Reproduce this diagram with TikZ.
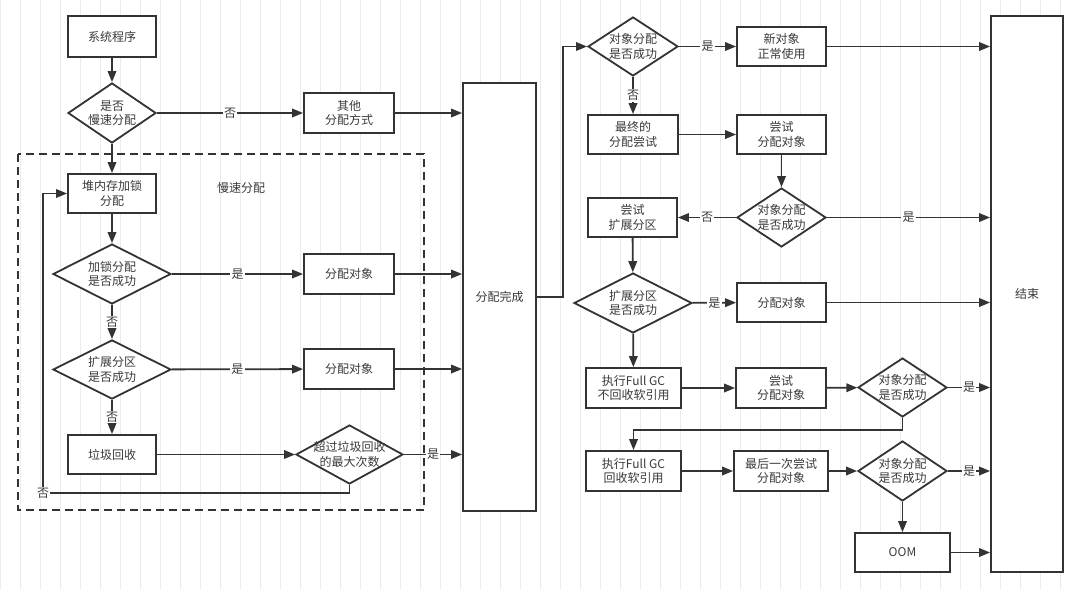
\documentclass[tikz,border=0pt]{standalone}
\usepackage{fontspec}
\setmainfont{Noto Sans CJK SC}
\usepackage{xcolor}
\usetikzlibrary{arrows.meta,shapes.geometric}
\definecolor{ln}{HTML}{333333}
\definecolor{tx}{HTML}{3A3A3A}
\tikzset{
  txt/.style={font=\fontsize{12}{14.5}\selectfont, text=tx, align=center},
  blk/.style={rectangle, draw=ln, line width=1.8pt, fill=white, txt,
              inner sep=0pt, minimum width=#1, minimum height=40pt},
  blk/.default=89pt,
  dec/.style n args={3}{diamond, draw=ln, line width=1.8pt, fill=white,
              inner sep=0pt, minimum width=#1, minimum height=#2,
              label={[txt]center:{#3}}},
  fl/.style={-{Triangle[length=11pt,width=8.5pt]}, draw=ln, line width=1.8pt},
  frm/.style={draw=ln, line width=1.8pt, dash pattern=on 8pt off 5pt},
  lbl/.style={txt, fill=white, inner sep=1.2pt},
  gridln/.style={draw=black!8, line width=0.6pt},
}
\begin{document}
\begin{tikzpicture}[x=1pt,y=-1pt]
\useasboundingbox (0,0) rectangle (1080,589);
\fill[white] (0,0) rectangle (1080,589);
\draw[gridln, step=20] (0,0) grid (1080,589);
\node[blk=88pt, minimum height=41pt] (sys) at (112,36.5) {系统程序};
\node[dec={88pt}{60pt}{是否\\慢速分配}] (slow) at (112,113) {};
\node[blk=90pt] (other) at (349,113) {其他\\分配方式};
\draw[frm] (18,154) rectangle (424,510);
\node[txt] (slowlbl) at (241,188) {慢速分配};
\node[blk=88pt, minimum height=39pt] (lock) at (112,193.5) {堆内存加锁\\分配};
\node[dec={118pt}{60pt}{加锁分配\\是否成功}] (lockok) at (112,274) {};
\node[blk=90pt] (obj1) at (349,274) {分配对象};
\node[dec={118pt}{59pt}{扩展分区\\是否成功}] (extok) at (112,369.5) {};
\node[blk=90pt] (obj2) at (349,369) {分配对象};
\node[blk=88pt, minimum height=39pt] (gc) at (112,454.5) {垃圾回收};
\node[dec={107pt}{59pt}{超过垃圾回收\\的最大次数}] (maxgc) at (349.5,454.5) {};
\node[blk=73pt, minimum height=428pt] (done) at (499.5,297) {分配完成};
\node[dec={90pt}{59pt}{对象分配\\是否成功}] (ok1) at (633,46.5) {};
\node[blk, minimum height=39pt] (newobj) at (781.5,46.5) {新对象\\正常使用};
\node[blk=90pt, minimum height=39pt] (final) at (633,134.5) {最终的\\分配尝试};
\node[blk, minimum height=39pt] (try1) at (781.5,134.5) {尝试\\分配对象};
\node[dec={89pt}{59pt}{对象分配\\是否成功}] (ok2) at (781.5,217.5) {};
\node[blk, minimum height=39pt] (tryext) at (632.5,217.5) {尝试\\扩展分区};
\node[dec={118pt}{60pt}{扩展分区\\是否成功}] (extok2) at (633,303) {};
\node[blk, minimum height=39pt] (obj3) at (781.5,302.5) {分配对象};
\node[blk=95pt] (fgc1) at (633.5,388) {执行Full GC\\不回收软引用};
\node[blk=90pt] (try2) at (781,388) {尝试\\分配对象};
\node[dec={89pt}{59pt}{对象分配\\是否成功}] (ok3) at (902.5,387.5) {};
\node[blk=95pt] (fgc2) at (633.5,471) {执行Full GC\\回收软引用};
\node[blk=94pt] (try3) at (781,471) {最后一次尝试\\分配对象};
\node[dec={89pt}{60pt}{对象分配\\是否成功}] (ok4) at (902.5,471) {};
\node[blk=95pt, minimum height=39pt] (oom) at (902.5,552.5) {OOM};
\node[blk=72pt, minimum height=556pt] (end) at (1027,294) {结束};
\draw[fl] (sys) -- (slow);
\draw[fl] (slow) -- node[lbl]{否} (other);
\draw[fl] (other.east) -- (other.east -| done.west);
\draw[fl] (slow) -- (lock);
\draw[fl] (lock) -- (lockok);
\draw[fl] (lockok) -- node[lbl]{是} (obj1);
\draw[fl] (obj1.east) -- (obj1.east -| done.west);
\draw[fl] (lockok) -- node[lbl]{否} (extok);
\draw[fl] (extok) -- node[lbl]{是} (obj2);
\draw[fl] (obj2.east) -- (obj2.east -| done.west);
\draw[fl] (extok) -- node[lbl]{否} (gc);
\draw[fl] (gc) -- (maxgc);
\draw[fl] (maxgc.east) -- node[lbl]{是} (maxgc.east -| done.west);
\coordinate (lp) at (43,493);
\draw[fl] (maxgc.south) |- (lp) |- (lock.west);
\node[lbl] (no5) at (lp) {否};
\draw[fl] (done.east) -- ++(26,0) |- (ok1.west);
\draw[fl] (ok1) -- node[lbl]{是} (newobj);
\draw[fl] (newobj.east) -- (newobj.east -| end.west);
\draw[fl] (ok1) -- node[lbl]{否} (final);
\draw[fl] (final) -- (try1);
\draw[fl] (try1) -- (ok2);
\draw[fl] (ok2) -- node[lbl]{否} (tryext);
\draw[fl] (ok2.east) -- node[lbl]{是} (ok2.east -| end.west);
\draw[fl] (tryext) -- (extok2);
\draw[fl] (extok2) -- node[lbl]{是} (obj3);
\draw[fl] (obj3.east) -- (obj3.east -| end.west);
\draw[fl] (extok2) -- (fgc1);
\draw[fl] (fgc1) -- (try2);
\draw[fl] (try2) -- (ok3);
\draw[fl] (ok3.east) -- node[lbl]{是} (ok3.east -| end.west);
\draw[fl] (ok3.south) -- ++(0,12) -| (fgc2.north);
\draw[fl] (fgc2) -- (try3);
\draw[fl] (try3) -- (ok4);
\draw[fl] (ok4.east) -- node[lbl]{是} (ok4.east -| end.west);
\draw[fl] (ok4) -- (oom);
\draw[fl] (oom.east) -- (oom.east -| end.west);
\end{tikzpicture}
\end{document}
